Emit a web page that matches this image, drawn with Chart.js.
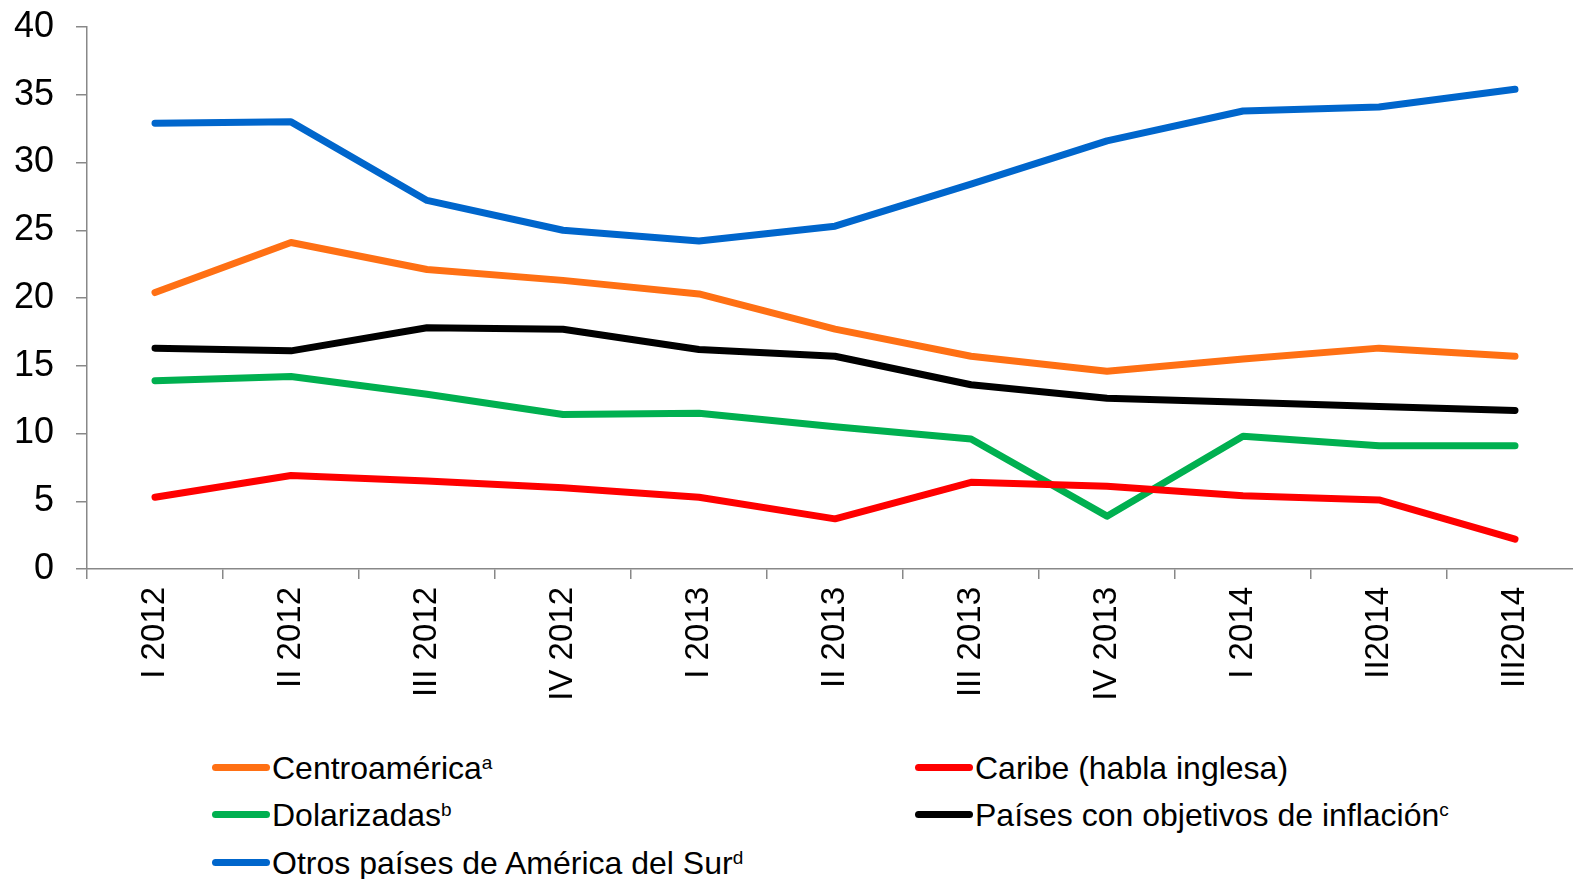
<!DOCTYPE html>
<html>
<head>
<meta charset="utf-8">
<script src="https://cdn.jsdelivr.net/npm/chart.js@4.4.0/dist/chart.umd.min.js"></script>
<style>
  html, body { margin: 0; padding: 0; background: #fff; overflow: hidden; width: 1573px; height: 879px; }
  #wrap { position: absolute; left: 0; top: 0; width: 1583px; height: 720px; }
  .leg { position: absolute; font-family: "Liberation Sans", Arial, sans-serif; font-size: 32px; color: #000; white-space: nowrap; line-height: 1; }
  .leg .sw { display: inline-block; width: 58px; height: 7px; border-radius: 3.5px; vertical-align: middle; margin-right: 2px; position: relative; top: -3px; }
  .leg sup { font-size: 19px; vertical-align: top; position: relative; top: 1px; }
</style>
</head>
<body>
<div id="wrap"><canvas id="chart"></canvas></div>
<div class="leg" style="left:212px; top:752px;"><span class="sw" style="background:#FF7014"></span>Centroamérica<sup>a</sup></div>
<div class="leg" style="left:915px; top:752px;"><span class="sw" style="background:#FF0000"></span>Caribe (habla inglesa)</div>
<div class="leg" style="left:212px; top:799px;"><span class="sw" style="background:#00B050"></span>Dolarizadas<sup>b</sup></div>
<div class="leg" style="left:915px; top:799px;"><span class="sw" style="background:#000000"></span>Países con objetivos de inflación<sup>c</sup></div>
<div class="leg" style="left:212px; top:847px;"><span class="sw" style="background:#0066CC"></span>Otros países de América del Sur<sup>d</sup></div>
<script>
var categories = ["I 2012","II 2012","III 2012","IV 2012","I 2013","II 2013","III 2013","IV 2013","I 2014","II2014","III2014"];
var centroamerica = [20.4, 24.1, 22.1, 21.3, 20.3, 17.7, 15.7, 14.6, 15.5, 16.3, 15.7];
var caribe = [5.3, 6.9, 6.5, 6.0, 5.3, 3.7, 6.4, 6.1, 5.4, 5.1, 2.2];
var dolarizadas = [13.9, 14.2, 12.9, 11.4, 11.5, 10.5, 9.6, 3.9, 9.8, 9.1, 9.1];
var metasInflacion = [16.3, 16.1, 17.8, 17.7, 16.2, 15.7, 13.6, 12.6, 12.3, 12.0, 11.7];
var otrosSur = [32.9, 33.0, 27.2, 25.0, 24.2, 25.3, 28.4, 31.6, 33.8, 34.1, 35.4];
var yTicks = [0, 5, 10, 15, 20, 25, 30, 35, 40];

function serie(label, values, color){
    return {
        label: label,
        data: values,
        borderColor: color,
        backgroundColor: color,
        borderWidth: 7,
        pointRadius: 0,
        tension: 0,
        borderCapStyle: 'round',
        borderJoinStyle: 'round'
    };
}

var ctx = document.getElementById("chart");
var options = {};
var data = {};
options.type = 'line';
data.labels = categories;
data.datasets = [
    serie("Centroamérica", centroamerica, '#FF7014'),
    serie("Caribe (habla inglesa)", caribe, '#FF0000'),
    serie("Dolarizadas", dolarizadas, '#00B050'),
    serie("Países con objetivos de inflación", metasInflacion, '#000000'),
    serie("Otros países de América del Sur", otrosSur, '#0066CC')
];
options.data = data;
options.options = {
    responsive: true,
    maintainAspectRatio: false,
    animation: false,
    layout: { padding: { top: 27, right: 0, left: 0, bottom: 0 } },
    plugins: { legend: { display: false }, tooltip: { enabled: false } },
    scales: {
        x: {
            offset: true,
            grid: { offset: true, drawOnChartArea: false, tickLength: 10, color: '#888', lineWidth: 1.5 },
            border: { color: '#888', width: 1.5 },
            ticks: {
                minRotation: 90, maxRotation: 90, padding: 8, autoSkip: false,
                color: '#000', font: { family: 'Liberation Sans', size: 33 }
            },
            afterFit: function(scale){ scale.height = 720 - 569; scale.paddingLeft = 0; scale.paddingRight = 0; }
        },
        y: {
            min: 0, max: 40,
            afterBuildTicks: function(scale){ scale.ticks = yTicks.map(function(v){ return { value: v }; }); },
            grid: { drawOnChartArea: false, tickLength: 11, color: '#888', lineWidth: 1.5 },
            border: { color: '#888', width: 1.5 },
            ticks: { padding: 22, color: '#000', font: { family: 'Liberation Sans', size: 36 } },
            afterFit: function(scale){ scale.width = 87; scale.paddingTop = 0; scale.paddingBottom = 0; }
        }
    }
};
new Chart(ctx, options);
</script>
</body>
</html>
